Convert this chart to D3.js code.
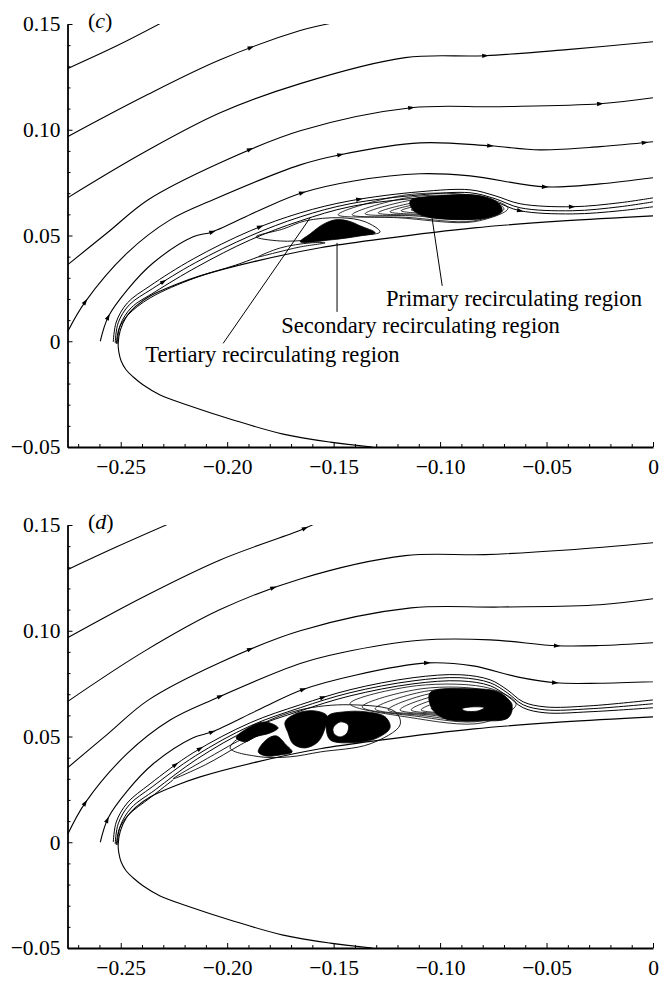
<!DOCTYPE html>
<html>
<head>
<meta charset="utf-8">
<script src="https://d3js.org/d3.v7.min.js"></script>
<style>
body { margin: 0; background: #fff; }
svg text { font-family: 'Liberation Serif', 'Times New Roman', serif; fill: #000; }
</style>
</head>
<body>
<svg id="fig" width="659" height="981"></svg>
<script>
// ---------- data (x, y) ----------
// body surface (same in both panels), from the trailing end of the lower side round the nose
var bodyLower = [[-0.1319,-0.0500],[-0.1516,-0.0477],[-0.1737,-0.0439],[-0.1972,-0.0372],[-0.2188,-0.0301],[-0.2315,-0.0254],[-0.2394,-0.0207],[-0.2441,-0.0169],[-0.2474,-0.0136],[-0.2498,-0.0093],[-0.2509,-0.0050]];
var bodyUpper = [[-0.2512,-0.0013],[-0.2502,0.0053],[-0.2474,0.0115],[-0.2427,0.0167],[-0.2362,0.0214],[-0.2244,0.0267],[-0.2127,0.0309],[-0.1859,0.0380],[-0.1563,0.0442],[-0.1272,0.0484],[-0.0840,0.0536],[-0.0423,0.0569],[0,0.0593]];

// panel (c) streamlines
var c1 = [[-0.275,0.1289],[-0.2516,0.1398],[-0.2315,0.1502]];
var c2 = [[-0.275,0.0967],[-0.2394,0.1156],[-0.2033,0.1331],[-0.1657,0.1469],[-0.1518,0.1502]];
var c3 = [[-0.275,0.0678],[-0.2394,0.0891],[-0.2033,0.1080],[-0.1657,0.1218],[-0.1164,0.1341],[-0.0789,0.1350],[-0.0404,0.1379],[0,0.1416]];
var c4 = [[-0.275,0.0361],[-0.2563,0.0513],[-0.2371,0.0669],[-0.2033,0.0844],[-0.1657,0.0995],[-0.1136,0.1104],[-0.0718,0.1109],[-0.0249,0.1123],[0,0.1151]];
var c5 = [[-0.275,0.0044],[-0.2667,0.0186],[-0.2469,0.0418],[-0.2268,0.0574],[-0.2066,0.0669],[-0.1657,0.0834],[-0.1469,0.0882],[-0.1094,0.0938],[-0.0765,0.0924],[-0.0531,0.0905],[-0.0249,0.0920],[0,0.0943]];
var c6 = [[-0.2596,0],[-0.2559,0.0115],[-0.2469,0.0243],[-0.2347,0.0371],[-0.2160,0.0494],[-0.2070,0.0517],[-0.1845,0.0621],[-0.1648,0.0702],[-0.1399,0.0759],[-0.1094,0.0792],[-0.0859,0.0782],[-0.0507,0.0730],[-0.0249,0.0744],[0,0.0773]];
var c7 = [[-0.2535,-0.0003],[-0.2521,0.0091],[-0.2469,0.0181],[-0.2362,0.0262],[-0.2160,0.0389],[-0.1892,0.0522],[-0.1657,0.0607],[-0.1423,0.0664],[-0.1094,0.0707],[-0.0859,0.0716],[-0.0742,0.0688],[-0.0624,0.0650],[-0.0380,0.0636],[-0.0155,0.0655],[0,0.0678]];
var c8 = [[-0.2526,-0.0008],[-0.2512,0.0087],[-0.2460,0.0172],[-0.2352,0.0248],[-0.2150,0.0371],[-0.1892,0.0498],[-0.1657,0.0588],[-0.1423,0.0650],[-0.1094,0.0692],[-0.0859,0.0702],[-0.0742,0.0674],[-0.0624,0.0631],[-0.0380,0.0617],[-0.0155,0.0636],[0,0.0659]];
var c9 = [[-0.2517,-0.0013],[-0.2502,0.0077],[-0.2451,0.0158],[-0.2338,0.0234],[-0.2141,0.0352],[-0.1892,0.0479],[-0.1657,0.0569],[-0.1423,0.0636],[-0.1094,0.0678],[-0.0859,0.0688],[-0.0742,0.0659],[-0.0624,0.0617],[-0.0380,0.0602],[-0.0155,0.0617],[0,0.0636]];
var c10 = [[-0.2521,-0.0013],[-0.2507,0.0063],[-0.2465,0.0125],[-0.2362,0.0205],[-0.2150,0.0300],[-0.1960,0.0360],[-0.1854,0.0399]];
var arrowsC = [[], [-0.189], [-0.0789], [-0.1892,-0.1136,-0.0249], [-0.2667,-0.1469,-0.0765,-0.0038], [-0.2559,-0.2070,-0.1648,-0.0507], [-0.1845,-0.1380,-0.0380], [-0.2300], [-0.0624], []];

// panel (c) recirculation: nested loops [xLeft, xRight, yTop, yBottom, yTip]
var primaryC = [
  [-0.1479,-0.0681,0.0692,0.0565,0.0598],
  [-0.1413,-0.0700,0.0683,0.0569,0.0598],
  [-0.1352,-0.0718,0.0673,0.0579,0.0603],
  [-0.1291,-0.0732,0.0664,0.0584,0.0607],
  [-0.1235,-0.0746,0.0659,0.0588,0.0612],
  [-0.1183,-0.0761,0.0655,0.0593,0.0617],
  [-0.1136,-0.0775,0.0650,0.0598,0.0621],
  [-0.1094,-0.0789,0.0645,0.0603,0.0626],
  [-0.1052,-0.0803,0.0640,0.0607,0.0626],
  [-0.1014,-0.0817,0.0636,0.0612,0.0626],
  [-0.0977,-0.0831,0.0631,0.0617,0.0626]
];
var coreC = [[-0.1140,0.0664],[-0.1000,0.0688],[-0.0812,0.0688],[-0.0728,0.0655],[-0.0709,0.0615],[-0.0775,0.0584],[-0.0953,0.0576],[-0.1080,0.0593],[-0.1130,0.0624]];
var secondaryC = [[-0.1657,0.0470],[-0.1610,0.0508],[-0.1554,0.0550],[-0.1493,0.0574],[-0.1432,0.0569],[-0.1376,0.0546],[-0.1305,0.0513],[-0.1376,0.0498],[-0.1516,0.0479]];
var tertiaryC = [[-0.1864,0.0494],[-0.1737,0.0531],[-0.1634,0.0569],[-0.1469,0.0584],[-0.1352,0.0565],[-0.1282,0.0517],[-0.1423,0.0498],[-0.1610,0.0479],[-0.1751,0.0474]];
var skinnyC = [[-0.1854,0.0399],[-0.1751,0.0441],[-0.1610,0.0465],[-0.1540,0.0465],[-0.1657,0.0446],[-0.1775,0.0418]];

// labels and pointers of panel (c)
var labelText = ["Primary recirculating region", "Secondary recirculating region", "Tertiary recirculating region"];
var labelPos = [[-0.1254,0.0165],[-0.1746,0.0037],[-0.2385,-0.0100]];
var pointers = [[[-0.1038,0.0584],[-0.0990,0.0262]], [[-0.1484,0.0465],[-0.1484,0.0139]], [[-0.1610,0.0584],[-0.2019,-0.0010]]];

// panel (d) streamlines
var dd1 = [[-0.275,0.1289],[-0.2516,0.1398],[-0.2282,0.1502]];
var dd2 = [[-0.275,0.0967],[-0.2394,0.1160],[-0.2033,0.1335],[-0.1657,0.1475],[-0.1596,0.1502]];
var dd3 = [[-0.275,0.0665],[-0.2394,0.0900],[-0.2033,0.1100],[-0.1657,0.1245],[-0.1164,0.1355],[-0.0789,0.1360],[-0.0404,0.1382],[0,0.1416]];
var dd4 = [[-0.275,0.0352],[-0.2563,0.0510],[-0.2371,0.0672],[-0.2033,0.0850],[-0.1657,0.1000],[-0.1136,0.1108],[-0.0718,0.1112],[-0.0249,0.1123],[0,0.1151]];
var dd5 = [[-0.275,0.0035],[-0.2667,0.0186],[-0.2469,0.0420],[-0.2268,0.0578],[-0.2066,0.0675],[-0.1657,0.0845],[-0.1469,0.0895],[-0.1094,0.0955],[-0.0765,0.0957],[-0.0451,0.0929],[-0.0249,0.0930],[0,0.0943]];
var dd6 = [[-0.2596,0],[-0.2559,0.0115],[-0.2469,0.0243],[-0.2347,0.0371],[-0.2160,0.0494],[-0.2070,0.0522],[-0.1845,0.0630],[-0.1648,0.0721],[-0.1399,0.0790],[-0.1061,0.0848],[-0.0845,0.0834],[-0.0638,0.0782],[-0.0460,0.0754],[-0.0249,0.0752],[0,0.0759]];
var dd7 = [[-0.2535,0.0001],[-0.2521,0.0096],[-0.2469,0.0186],[-0.2362,0.0276],[-0.2160,0.0423],[-0.1892,0.0565],[-0.1657,0.0650],[-0.1423,0.0721],[-0.1127,0.0778],[-0.0906,0.0792],[-0.0765,0.0768],[-0.0685,0.0721],[-0.0610,0.0664],[-0.0507,0.0640],[-0.0296,0.0645],[0,0.0673]];
var dd8 = [[-0.2526,-0.0008],[-0.2512,0.0087],[-0.2460,0.0177],[-0.2352,0.0262],[-0.2150,0.0408],[-0.1892,0.0550],[-0.1657,0.0636],[-0.1423,0.0707],[-0.1127,0.0763],[-0.0906,0.0778],[-0.0765,0.0754],[-0.0685,0.0707],[-0.0610,0.0650],[-0.0507,0.0626],[-0.0296,0.0631],[0,0.0655]];
var dd9 = [[-0.2517,-0.0013],[-0.2502,0.0077],[-0.2451,0.0162],[-0.2338,0.0248],[-0.2141,0.0394],[-0.1892,0.0536],[-0.1657,0.0621],[-0.1423,0.0692],[-0.1127,0.0749],[-0.0906,0.0763],[-0.0765,0.0740],[-0.0685,0.0692],[-0.0610,0.0636],[-0.0507,0.0612],[-0.0296,0.0617],[0,0.0636]];
var dd10 = [[-0.2521,-0.0013],[-0.2507,0.0063],[-0.2465,0.0128],[-0.2362,0.0210],[-0.2254,0.0295]];
var arrowsD = [[], [-0.1634], [-0.1784], [-0.1892], [-0.2667,-0.2033,-0.0451], [-0.2563,-0.2070,-0.1643,-0.1061,-0.0460], [-0.2244,-0.2127,-0.1549], [], [], []];

// panel (d) recirculation
var primaryD = [
  [-0.1423,-0.0643,0.0740,0.0565,0.0655],
  [-0.1366,-0.0662,0.0726,0.0574,0.0640],
  [-0.1305,-0.0681,0.0716,0.0579,0.0631],
  [-0.1244,-0.0695,0.0707,0.0584,0.0626],
  [-0.1188,-0.0709,0.0697,0.0588,0.0626],
  [-0.1136,-0.0723,0.0688,0.0593,0.0626],
  [-0.1089,-0.0737,0.0678,0.0598,0.0626],
  [-0.1042,-0.0751,0.0669,0.0603,0.0631],
  [-0.0995,-0.0765,0.0659,0.0607,0.0631],
  [-0.0953,-0.0779,0.0650,0.0612,0.0631]
];
var coreD = [[-0.1047,0.0707],[-0.0859,0.0726],[-0.0718,0.0707],[-0.0662,0.0645],[-0.0681,0.0588],[-0.0812,0.0574],[-0.0977,0.0584],[-0.1038,0.0631]];
var streakD = [[-0.0897,0.0631],[-0.0850,0.0640],[-0.0793,0.0636],[-0.0822,0.0621],[-0.0883,0.0621]];
var blobA = [[-0.1958,0.0494],[-0.1892,0.0546],[-0.1822,0.0569],[-0.1761,0.0541],[-0.1798,0.0517],[-0.1869,0.0498],[-0.1915,0.0475]];
var blobB = [[-0.1854,0.0427],[-0.1817,0.0484],[-0.1770,0.0503],[-0.1723,0.0460],[-0.1695,0.0427],[-0.1751,0.0413],[-0.1817,0.0408]];
var blobC = [[-0.1728,0.0569],[-0.1667,0.0612],[-0.1587,0.0621],[-0.1531,0.0598],[-0.1540,0.0541],[-0.1573,0.0475],[-0.1634,0.0446],[-0.1690,0.0465],[-0.1714,0.0517]];
var blobD = [[-0.1526,0.0598],[-0.1446,0.0617],[-0.1352,0.0617],[-0.1258,0.0593],[-0.1235,0.0541],[-0.1305,0.0489],[-0.1423,0.0470],[-0.1516,0.0484],[-0.1535,0.0541]];
var ovalE = [[-0.1502,0.0541],[-0.1469,0.0569],[-0.1432,0.0555],[-0.1437,0.0517],[-0.1469,0.0498],[-0.1498,0.0513]];
var outlineD = [[-0.1986,0.0446],[-0.1845,0.0555],[-0.1657,0.0626],[-0.1423,0.0650],[-0.1211,0.0617],[-0.1188,0.0555],[-0.1329,0.0465],[-0.1563,0.0427],[-0.1704,0.0404],[-0.1845,0.0404]];
var skinnyD = [[-0.2254,0.0300],[-0.2080,0.0404],[-0.1915,0.0494],[-0.1836,0.0517],[-0.1939,0.0460],[-0.2103,0.0366]];

// axis ticks
var xMajor = [-0.25,-0.20,-0.15,-0.10,-0.05,0];
var yMajor = [-0.05,0,0.05,0.10,0.15];
var xMinor = [-0.27,-0.26,-0.24,-0.23,-0.22,-0.21,-0.19,-0.18,-0.17,-0.16,-0.14,-0.13,-0.12,-0.11,-0.09,-0.08,-0.07,-0.06,-0.04,-0.03,-0.02,-0.01];
var yMinor = [-0.04,-0.03,-0.02,-0.01,0.01,0.02,0.03,0.04,0.06,0.07,0.08,0.09,0.11,0.12,0.13,0.14];

// ---------- drawing ----------
var svg = d3.select("#fig");
var x = d3.scaleLinear().domain([-0.275, 0]).range([67.5, 653]);

function fmt(d) {
  if (Math.abs(d) < 1e-9) return "0";
  return (d < 0 ? "\u2212" : "") + Math.abs(d).toFixed(2);
}

function loopPoints(p) {
  var x0 = p[0], x1 = p[1], yt = p[2], yb = p[3], ytip = p[4], w = x1 - x0;
  return [[x0, ytip], [x0 + 0.4 * w, yt], [x0 + 0.85 * w, yt - 0.08 * (yt - yb)], [x1, (yt + yb) / 2],
          [x0 + 0.8 * w, yb], [x0 + 0.35 * w, yb + 0.15 * (yt - yb)]];
}

function addArrows(g, node, xs) {
  if (!xs || !xs.length) return;
  var L = node.getTotalLength(), pts = [];
  for (var s = 0; s <= L; s += 0.5) pts.push(node.getPointAtLength(s));
  xs.forEach(function(xv) {
    var px = x(xv), best = 0;
    pts.forEach(function(p, i) { if (Math.abs(p.x - px) < Math.abs(pts[best].x - px)) best = i; });
    var a = pts[Math.max(best - 4, 0)], b = pts[Math.min(best + 4, pts.length - 1)];
    var ang = Math.atan2(b.y - a.y, b.x - a.x) * 180 / Math.PI;
    g.append("path").attr("d", "M3.5,0L-3,-2.2L-3,2.2Z")
      .attr("transform", "translate(" + pts[best].x + "," + pts[best].y + ") rotate(" + ang + ")")
      .attr("fill", "#000");
  });
}

function drawPanel(top, id, letter, lines, arrows, loops, fills, whites, outlines) {
  var y = d3.scaleLinear().domain([-0.05, 0.15]).range([top + 423, top]);
  var line = d3.line().x(function(d) { return x(d[0]); }).y(function(d) { return y(d[1]); }).curve(d3.curveCatmullRom.alpha(0.5));
  var closed = d3.line().x(function(d) { return x(d[0]); }).y(function(d) { return y(d[1]); }).curve(d3.curveCatmullRomClosed.alpha(0.5));

  svg.append("clipPath").attr("id", "clip" + id).append("rect")
    .attr("x", 67.5).attr("y", top).attr("width", 653 - 67.5).attr("height", 423);
  var g = svg.append("g").attr("clip-path", "url(#clip" + id + ")");

  // body
  g.append("path").attr("d", line(bodyLower.concat(bodyUpper)))
    .attr("fill", "none").attr("stroke", "#000").attr("stroke-width", 1.1);

  // black regions
  fills.forEach(function(f) {
    g.append("path").attr("d", closed(f)).attr("fill", "#000").attr("stroke", "#000").attr("stroke-width", 0.8);
  });
  whites.forEach(function(f) {
    g.append("path").attr("d", closed(f)).attr("fill", "#fff").attr("stroke", "#000").attr("stroke-width", 0.8);
  });
  outlines.forEach(function(f) {
    g.append("path").attr("d", closed(f)).attr("fill", "none").attr("stroke", "#000").attr("stroke-width", 0.9);
  });

  // nested loops of the primary region
  loops.forEach(function(p) {
    g.append("path").attr("d", closed(loopPoints(p))).attr("fill", "none").attr("stroke", "#000").attr("stroke-width", 0.8);
  });

  // streamlines
  lines.forEach(function(l, i) {
    var p = g.append("path").attr("d", line(l)).attr("fill", "none").attr("stroke", "#000")
      .attr("stroke-width", i >= 6 ? 1.0 : 1.1);
    addArrows(g, p.node(), arrows[i]);
  });

  // axes
  var ax = svg.append("g").attr("transform", "translate(0," + (top + 423) + ")")
    .call(d3.axisBottom(x).tickValues(xMajor).tickFormat(fmt).tickSizeInner(-5).tickSizeOuter(0).tickPadding(12));
  svg.append("g").attr("transform", "translate(0," + (top + 423) + ")")
    .call(d3.axisBottom(x).tickValues(xMinor).tickFormat("").tickSizeInner(-3).tickSizeOuter(0))
    .select(".domain").remove();
  var ay = svg.append("g").attr("transform", "translate(67.5,0)")
    .call(d3.axisLeft(y).tickValues(yMajor).tickFormat(fmt).tickSizeInner(-5).tickSizeOuter(0).tickPadding(7));
  svg.append("g").attr("transform", "translate(67.5,0)")
    .call(d3.axisLeft(y).tickValues(yMinor).tickFormat("").tickSizeInner(-3).tickSizeOuter(0))
    .select(".domain").remove();
  [ax, ay].forEach(function(a) {
    a.attr("font-family", "'Liberation Serif', serif").attr("font-size", 21.5);
    a.select(".domain").attr("stroke-width", 1.8);
    a.selectAll(".tick line").attr("stroke-width", 1);
  });
  svg.selectAll(".tick line").attr("stroke", "#000");

  // panel letter
  var t = svg.append("text").attr("x", 88).attr("y", top + 4).attr("font-size", 22);
  t.append("tspan").text("(");
  t.append("tspan").attr("font-style", "italic").text(letter);
  t.append("tspan").text(")");
  return y;
}

var yc = drawPanel(24, "c", "c",
  [c1, c2, c3, c4, c5, c6, c7, c8, c9, c10], arrowsC, primaryC,
  [coreC, secondaryC], [], [tertiaryC, skinnyC]);

// labels of panel (c)
labelText.forEach(function(s, i) {
  svg.append("text").attr("x", x(labelPos[i][0])).attr("y", yc(labelPos[i][1])).attr("font-size", 22.6).text(s);
});
pointers.forEach(function(p) {
  svg.append("line").attr("x1", x(p[0][0])).attr("y1", yc(p[0][1])).attr("x2", x(p[1][0])).attr("y2", yc(p[1][1]))
    .attr("stroke", "#000").attr("stroke-width", 1);
});

drawPanel(525, "d", "d",
  [dd1, dd2, dd3, dd4, dd5, dd6, dd7, dd8, dd9, dd10], arrowsD, primaryD,
  [coreD, blobA, blobB, blobC, blobD], [streakD, ovalE], [outlineD, skinnyD]);
</script>
</body>
</html>
